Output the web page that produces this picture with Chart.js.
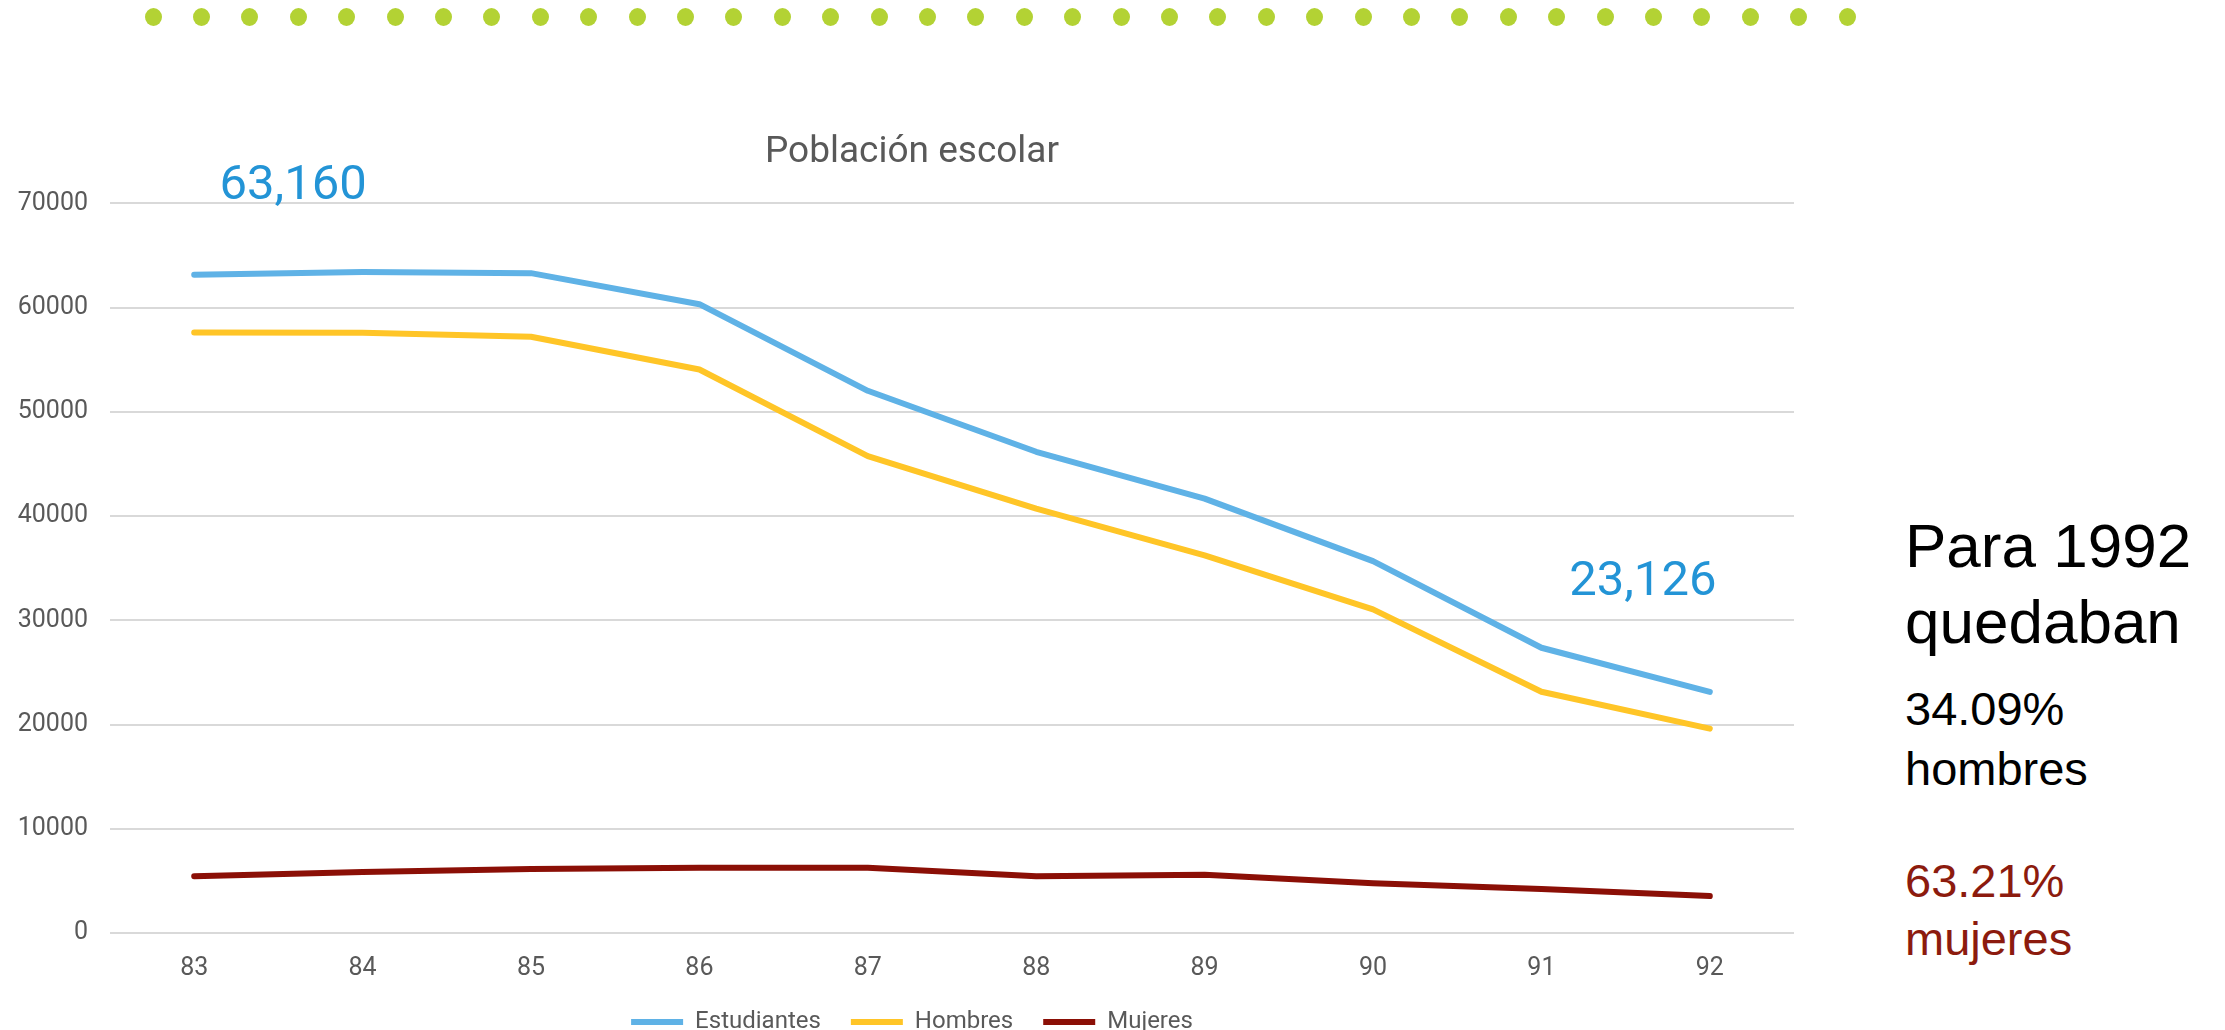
<!DOCTYPE html>
<html>
<head>
<meta charset="utf-8">
<script src="https://cdn.jsdelivr.net/npm/chart.js@4"></script>
<style>
    body { margin: 0; width: 2225px; height: 1030px; overflow: hidden; background: #fff; position: relative; }
    #chartBox { position: absolute; left: 0; top: 0; width: 1828px; height: 1044px; }
    .dot { position: absolute; width: 17px; height: 18px; border-radius: 50%; background: #b3d234; }
    .note { position: absolute; left: 1905px; font-family: "Liberation Sans", Arial, sans-serif; white-space: nowrap; }
</style>
</head>
<body>
<div id="dots"></div>
<div id="chartBox"><canvas id="schoolChart"></canvas></div>

<div class="note" style="top:508px; font-size:62px; line-height:76px; color:#000;">Para 1992<br>quedaban</div>
<div class="note" style="top:679px; font-size:47px; line-height:60px; color:#000;">34.09%<br>hombres</div>
<div class="note" style="top:852px; font-size:47px; line-height:58px; color:#8c1b0e;">63.21%<br>mujeres</div>

<script>
// Años escolares (eje x)
const years = ['83', '84', '85', '86', '87', '88', '89', '90', '91', '92'];

// Series
const estudiantes = [63160, 63410, 63310, 60330, 52020, 46170, 41670, 35680, 27370, 23126];
const hombres = [57610, 57580, 57200, 54060, 45760, 40720, 36230, 31050, 23150, 19610];
const mujeres = [5450, 5860, 6130, 6260, 6260, 5450, 5580, 4770, 4220, 3540];

const yTicks = [0, 10000, 20000, 30000, 40000, 50000, 60000, 70000];

// Decorative dotted band at the top of the slide
const dotsBox = document.getElementById('dots');
for (let i = 0; i < 36; i++) {
    const d = document.createElement('div');
    d.className = 'dot';
    d.style.left = (153 + i * 48.4 - 8.5) + 'px';
    d.style.top = (17 - 9) + 'px';
    dotsBox.appendChild(d);
}

// Big blue callouts for first and last value
const calloutPlugin = {
    id: 'callouts',
    afterDatasetsDraw(chart) {
        const ctx = chart.ctx;
        const xs = chart.scales.x;
        const ys = chart.scales.y;
        ctx.save();
        ctx.font = '49px Roboto';
        ctx.fillStyle = '#2394d6';
        ctx.textAlign = 'center';
        ctx.textBaseline = 'middle';
        const first = estudiantes[0];
        const last = estudiantes[estudiantes.length - 1];
        ctx.fillText(first.toLocaleString('en-US'), xs.getPixelForValue(0) + 99, ys.getPixelForValue(first) - 88);
        ctx.fillText(last.toLocaleString('en-US'), xs.getPixelForValue(years.length - 1) - 67, ys.getPixelForValue(last) - 109);
        ctx.restore();
    }
};

// Tick labels are clipped to their scale box; widen the boxes after layout
// so the y labels can sit left of the padded area and x labels aren't cut.
const unclipPlugin = {
    id: 'unclip',
    afterLayout(chart) {
        chart.scales.y.left = 0;
        chart.scales.x.bottom = chart.height;
    }
};

function makeSeries(label, data, color) {
    return {
        label: label,
        data: data,
        borderColor: color,
        backgroundColor: color,
        borderWidth: 6,
        borderCapStyle: 'round',
        borderJoinStyle: 'round',
        pointRadius: 0,
        tension: 0,
        fill: false
    };
}

const ctx = document.getElementById('schoolChart').getContext('2d');
new Chart(ctx, {
    type: 'line',
    data: {
        labels: years,
        datasets: [
            makeSeries('Estudiantes', estudiantes, '#5fb2e6'),
            makeSeries('Hombres', hombres, '#ffc527'),
            makeSeries('Mujeres', mujeres, '#8b0f06')
        ]
    },
    options: {
        responsive: true,
        maintainAspectRatio: false,
        animation: false,
        layout: { padding: { left: 30, right: 34, top: 0, bottom: 0 } },
        plugins: {
            title: {
                display: true,
                text: 'Población escolar',
                color: '#595959',
                font: { family: 'Roboto', size: 37, weight: 'normal' },
                padding: { top: 131, bottom: 28 }
            },
            legend: {
                position: 'bottom',
                labels: {
                    usePointStyle: true,
                    pointStyle: 'line',
                    pointStyleWidth: 52,
                    padding: 30,
                    color: '#595959',
                    font: { family: 'Roboto', size: 24 }
                }
            },
            tooltip: { enabled: false }
        },
        scales: {
            x: {
                offset: true,
                afterFit(scale) { scale.height = 47; },
                grid: { display: false, drawTicks: false },
                border: { display: false },
                ticks: {
                    padding: 21,
                    color: '#595959',
                    font: { family: 'Roboto', size: 25 }
                }
            },
            y: {
                min: 0,
                max: 70000,
                afterFit(scale) { scale.width = 80; },
                afterBuildTicks(scale) { scale.ticks = yTicks.map(v => ({ value: v })); },
                grid: { color: '#d9d9d9', lineWidth: 2, drawTicks: false },
                border: { display: false },
                ticks: {
                    padding: 22,
                    color: '#595959',
                    font: { family: 'Roboto', size: 25 },
                    callback: v => String(v)
                }
            }
        }
    },
    plugins: [calloutPlugin, unclipPlugin]
});
</script>
</body>
</html>
